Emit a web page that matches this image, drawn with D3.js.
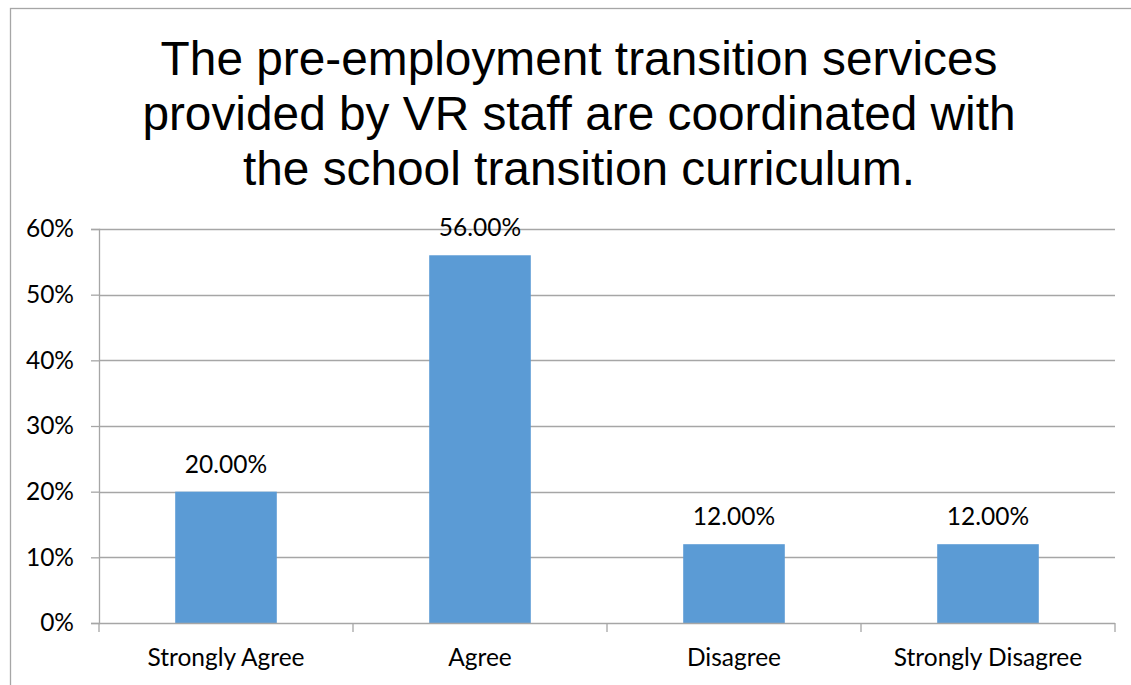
<!DOCTYPE html>
<html>
<head>
<meta charset="utf-8">
<script src="https://cdn.jsdelivr.net/npm/d3@7"></script>
<style>
  html, body { margin: 0; padding: 0; background: #fff; }
  svg { display: block; }
</style>
</head>
<body>
<div id="chart"></div>
<script>
// chart data
const categories = ["Strongly Agree", "Agree", "Disagree", "Strongly Disagree"];
const values = [0.20, 0.56, 0.12, 0.12];
const yTicks = [0, 0.1, 0.2, 0.3, 0.4, 0.5, 0.6];
const titleLines = [
  "The pre-employment transition services",
  "provided by VR staff are coordinated with",
  "the school transition curriculum."
];

const width = 1131, height = 685;
const margin = {top: 229, right: 16, bottom: 62, left: 99};
const innerW = width - margin.left - margin.right;
const innerH = height - margin.top - margin.bottom;
const labelFont = "Lato, 'Open Sans', sans-serif";
const labelSize = 24.5;

const svg = d3.select("#chart").append("svg")
  .attr("width", width)
  .attr("height", height);

// outer chart frame
svg.append("rect")
  .attr("x", 10.5).attr("y", 8.5)
  .attr("width", 1140).attr("height", 700)
  .attr("fill", "none")
  .attr("stroke", "#a6a6a6")
  .attr("stroke-width", 1.3);

// title
svg.append("g").selectAll("text")
  .data(titleLines)
  .enter()
  .append("text")
  .attr("x", 579)
  .attr("y", (d, i) => 75 + i * 55)
  .attr("text-anchor", "middle")
  .attr("font-family", "'Liberation Sans', Arial, sans-serif")
  .attr("font-size", 47.8)
  .attr("fill", "#000")
  .text(d => d);

const g = svg.append("g")
  .attr("transform", "translate(" + margin.left + "," + margin.top + ")");

const x = d3.scaleBand()
  .domain(categories)
  .range([0, innerW])
  .padding(0);

const y = d3.scaleLinear()
  .domain([0, 0.6])
  .range([innerH, 0]);

const barW = x.bandwidth() * 0.4;

// gridlines
g.selectAll(".grid")
  .data(yTicks.filter(t => t > 0))
  .enter()
  .append("line")
  .attr("x1", 0)
  .attr("x2", innerW)
  .attr("y1", d => Math.round(y(d)) + 0.5)
  .attr("y2", d => Math.round(y(d)) + 0.5)
  .attr("stroke", "#a6a6a6")
  .attr("stroke-width", 1.3);

// y axis
const axisLeft = d3.axisLeft(y)
  .tickValues(yTicks)
  .tickFormat(d3.format(".0%"))
  .tickSize(8)
  .tickPadding(17);
const yAxisG = g.append("g").call(axisLeft);
yAxisG.select(".domain").attr("stroke", "#a6a6a6").attr("stroke-width", 1.3);
yAxisG.selectAll(".tick line").attr("stroke", "#a6a6a6").attr("stroke-width", 1.3);
yAxisG.selectAll(".tick text")
  .attr("font-family", labelFont)
  .attr("font-size", labelSize)
  .attr("fill", "#000");

// bars
g.selectAll(".bar")
  .data(values)
  .enter()
  .append("rect")
  .attr("x", (d, i) => x(categories[i]) + (x.bandwidth() - barW) / 2)
  .attr("y", d => y(d))
  .attr("width", barW)
  .attr("height", d => innerH - y(d))
  .attr("fill", "#5b9bd5");

// value labels
g.selectAll(".label")
  .data(values)
  .enter()
  .append("text")
  .attr("x", (d, i) => x(categories[i]) + x.bandwidth() / 2)
  .attr("y", d => y(d) - 19)
  .attr("text-anchor", "middle")
  .attr("font-family", labelFont)
  .attr("font-size", labelSize)
  .attr("fill", "#000")
  .text(d => d3.format(".2%")(d));

// x axis
const xAxisG = g.append("g").attr("transform", "translate(0," + innerH + ")");
xAxisG.append("line")
  .attr("x1", 0).attr("x2", innerW)
  .attr("y1", 0.5).attr("y2", 0.5)
  .attr("stroke", "#a6a6a6").attr("stroke-width", 1.3);
xAxisG.selectAll(".xtick")
  .data(d3.range(categories.length + 1))
  .enter()
  .append("line")
  .attr("x1", i => i * x.step())
  .attr("x2", i => i * x.step())
  .attr("y1", 0).attr("y2", 9)
  .attr("stroke", "#a6a6a6").attr("stroke-width", 1.3);
xAxisG.selectAll(".xlabel")
  .data(categories)
  .enter()
  .append("text")
  .attr("x", d => x(d) + x.bandwidth() / 2)
  .attr("y", 43)
  .attr("text-anchor", "middle")
  .attr("font-family", labelFont)
  .attr("font-size", labelSize)
  .attr("fill", "#000")
  .text(d => d);
</script>
</body>
</html>
